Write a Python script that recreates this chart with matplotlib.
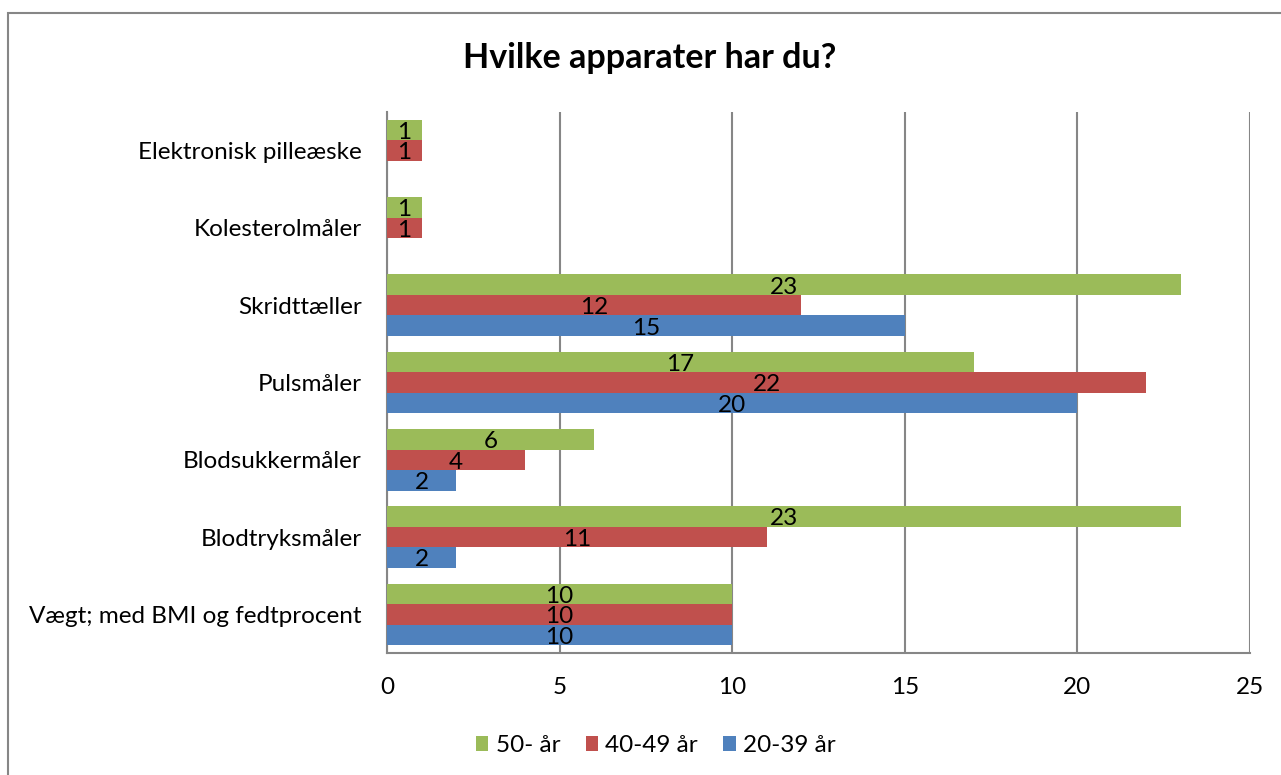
import numpy as np
import matplotlib
matplotlib.use("Agg")
import matplotlib.pyplot as plt
from matplotlib.patches import Rectangle

plt.rcParams['font.family'] = ['Lato', 'DejaVu Sans']

categories = ['Vægt; med BMI og fedtprocent', 'Blodtryksmåler', 'Blodsukkermåler',
              'Pulsmåler', 'Skridttæller', 'Kolesterolmåler', 'Elektronisk pilleæske']
v_20_39 = [10, 2, 2, 20, 15, np.nan, np.nan]
v_40_49 = [10, 11, 4, 22, 12, 1, 1]
v_50 = [10, 23, 6, 17, 23, 1, 1]

series = [('20-39 år', v_20_39, '#4F81BD', -1),
          ('40-49 år', v_40_49, '#C0504D', 0),
          ('50- år', v_50, '#9BBB59', 1)]

fig = plt.figure(figsize=(12.81, 7.75), dpi=100)
ax = fig.add_axes([0.3021, 0.1574, 0.6737, 0.6981])

y = np.arange(len(categories))
h = 0.265
fs = 17.5
handles = {}
for name, vals, col, off in series:
    vals = np.array(vals, dtype=float)
    bars = ax.barh(y + off * h, np.nan_to_num(vals), height=h, color=col, label=name, zorder=3)
    handles[name] = bars
    for yi, v in zip(y, vals):
        if not np.isnan(v):
            ax.text(v / 2, yi + off * h - 0.03, '%d' % v, ha='center', va='center',
                    fontsize=fs, color='black', zorder=4)

ax.set_xlim(0, 25)
ax.set_ylim(-0.5, len(categories) - 0.5)
ax.set_xticks(np.arange(0, 26, 5))
ax.set_yticks(y)
ax.set_yticklabels(categories)
ax.tick_params(axis='both', length=0, labelsize=fs)
ax.tick_params(axis='x', pad=17)
ax.tick_params(axis='y', pad=18)
ax.grid(axis='x', color='#868686', linewidth=1.5, zorder=0)
for s in ['top', 'right']:
    ax.spines[s].set_visible(False)
for s in ['left', 'bottom']:
    ax.spines[s].set_color('#868686')
    ax.spines[s].set_linewidth(1.5)

fig.text(0.507, 0.925, 'Hvilke apparater har du?', ha='center', va='center',
         fontsize=24.5, fontweight='bold')

order = ['50- år', '40-49 år', '20-39 år']
fig.legend([handles[k] for k in order], order, loc='center', bbox_to_anchor=(0.512, 0.038),
           ncol=3, frameon=False, fontsize=fs, handlelength=0.5, handleheight=0.6,
           handletextpad=0.3, columnspacing=1.05)

fig.patches.append(Rectangle((8 / 1281, -0.1), 1.2, 1 - 13 / 775 + 0.1, transform=fig.transFigure,
                             fill=False, edgecolor='#868686', linewidth=1.5))

fig.savefig('out.png', dpi=100)
